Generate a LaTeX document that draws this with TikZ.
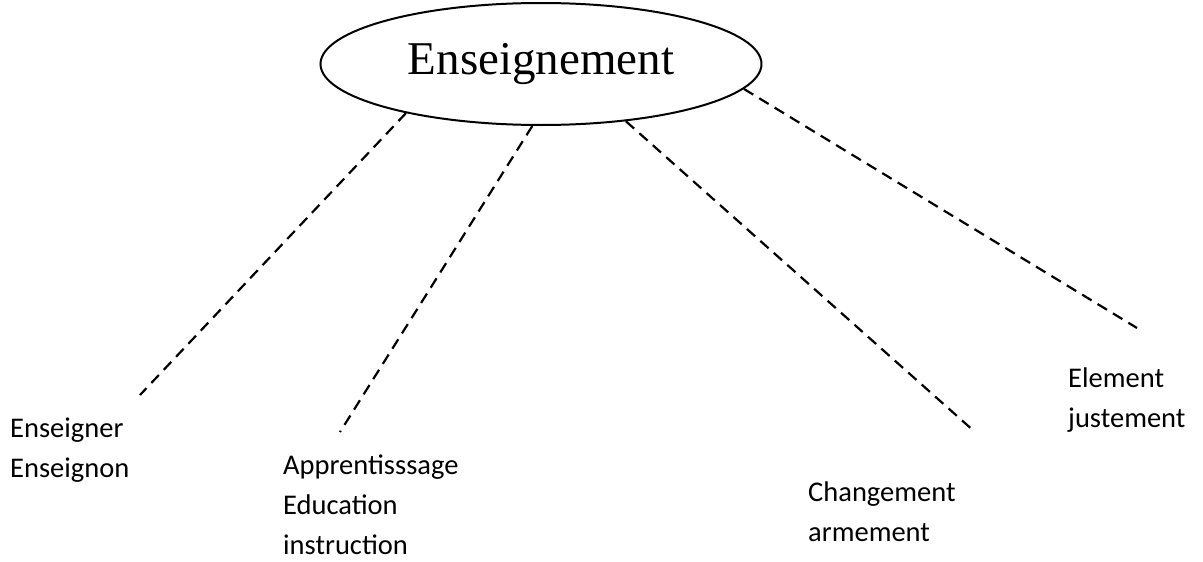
\documentclass[tikz,border=0pt]{standalone}
\usepackage{fontspec}
\setmainfont{Liberation Serif}
\newfontfamily\labelfont{Carlito}
\usetikzlibrary{shapes.geometric}
\tikzset{
 topic/.style={ellipse,draw,line width=2pt,minimum width=441pt,minimum height=122pt,inner sep=0,font=\fontsize{47}{50}\selectfont},
 branch/.style={line width=2.2pt,dash pattern=on 11pt off 7pt},
 word/.style={anchor=north west,inner sep=0,align=left,font=\labelfont\fontsize{28.5}{40}\selectfont}
}
\begin{document}
\begin{tikzpicture}[x=1pt,y=-1pt]
\path[use as bounding box] (0,0) rectangle (1203,562);
\node[topic] (topic) at (541,64) {Enseignement};
\coordinate (A) at (140,395);
\coordinate (B) at (340,432);
\coordinate (C) at (975,432);
\coordinate (D) at (1137,328);
\draw[branch] (topic.200) -- (A);
\draw[branch] (topic.262) -- (B);
\draw[branch] (topic.326) -- (C);
\draw[branch] (topic.353) -- (D);
\node[word] (enseigner) at (10,418) {Enseigner\\Enseignon};
\node[word] (apprentissage) at (283,455) {Apprentisssage\\Education\\instruction};
\node[word] (changement) at (808,482) {Changement\\armement};
\node[word] (element) at (1068,368) {Element\\justement};
\end{tikzpicture}
\end{document}
